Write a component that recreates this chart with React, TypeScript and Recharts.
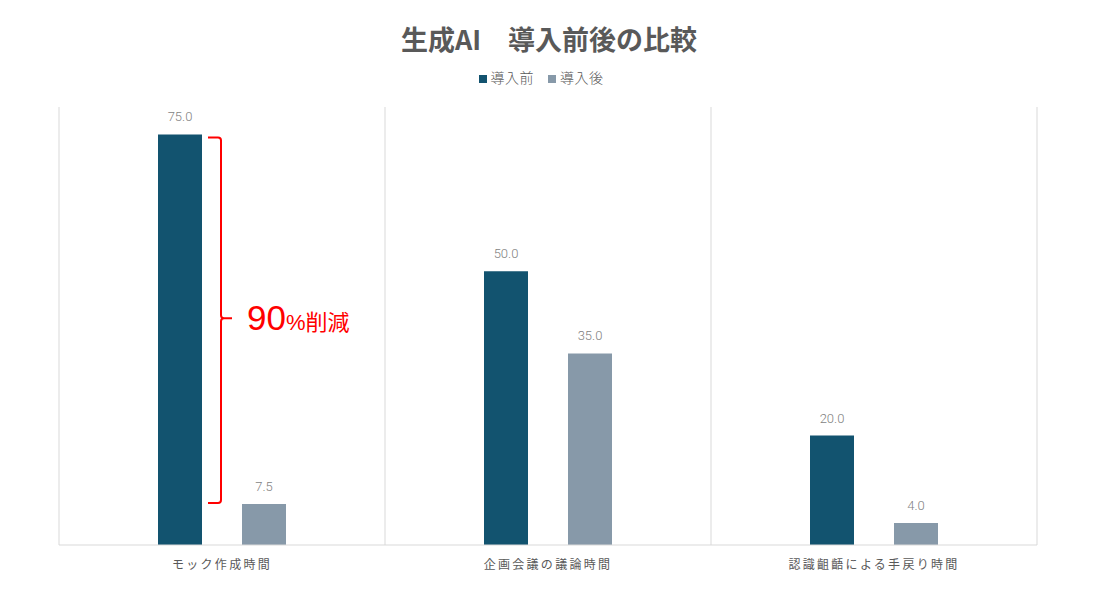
import { Bar, BarChart, CartesianGrid, LabelList, Legend, ReferenceLine, XAxis, YAxis } from "recharts";

const categories = ["モック作成時間", "企画会議の議論時間", "認識齟齬による手戻り時間"];
const before = [75, 50, 20];
const after = [7.5, 35, 4];

const data = categories.map((name, i) => ({ name, before: before[i], after: after[i] }));

const FONT = "'Noto Sans CJK JP', 'Noto Sans', sans-serif";
const LATIN = "'Liberation Sans', 'Noto Sans CJK JP', sans-serif";

const Brace = (props: any) => {
  const { x1, y1, y2 } = props;
  const x = x1 - 1;
  const top = y1 + 3;
  const bottom = y2 - 1;
  const mid = (top + bottom) / 2 - 2;
  const r = 3;
  const d = [
    `M ${x - 13} ${top}`,
    `L ${x - r} ${top}`,
    `Q ${x} ${top} ${x} ${top + r}`,
    `L ${x} ${mid - r}`,
    `Q ${x} ${mid} ${x + r} ${mid}`,
    `L ${x + 11} ${mid}`,
    `M ${x + r} ${mid}`,
    `Q ${x} ${mid} ${x} ${mid + r}`,
    `L ${x} ${bottom - r}`,
    `Q ${x} ${bottom} ${x - r} ${bottom}`,
    `L ${x - 13} ${bottom}`,
  ].join(" ");
  return (
    <g>
      <path d={d} fill="none" stroke="#FF0000" strokeWidth={2} />
      <text x={x + 26} y={mid + 12} fill="#FF0000" fontFamily={LATIN}>
        <tspan fontSize={35}>90</tspan>
        <tspan fontSize={22}>%</tspan>
        <tspan fontSize={22} fontFamily={FONT}>削減</tspan>
      </text>
    </g>
  );
};

export default function App() {
  return (
    <div style={{ position: "absolute", left: 0, top: 0, width: 1098, height: 611, background: "#fff" }}>
      <div
        style={{
          position: "absolute",
          top: 19,
          width: 1098,
          textAlign: "center",
          fontFamily: FONT,
          fontWeight: 700,
          fontSize: 27,
          color: "#595959",
        }}
      >
        生成AI　導入前後の比較
      </div>
      <BarChart
        width={1098}
        height={611}
        data={data}
        margin={{ top: 87, right: 61, bottom: 36, left: 59 }}
        barSize={44}
        barGap={40}
      >
        <CartesianGrid
          horizontal={false}
          stroke="#d9d9d9"
          verticalCoordinatesGenerator={({ offset }: any) =>
            [0, 1, 2, 3].map((i) => offset.left + (offset.width * i) / 3)
          }
        />
        <XAxis
          dataKey="name"
          stroke="#d9d9d9"
          tickLine={false}
          height={30}
          tick={{ fill: "#595959", fontSize: 12, fontFamily: FONT, letterSpacing: 2.3 }}
          tickMargin={9}
        />
        <YAxis hide domain={[0, 80]} />
        <Legend
          verticalAlign="top"
          align="center"
          iconType="square"
          iconSize={8}
          wrapperStyle={{ top: 67, fontFamily: FONT, fontSize: 14 }}
          formatter={(value: string) => (
            <span style={{ color: "#595959", fontWeight: 300, letterSpacing: 0.5, paddingRight: 4 }}>{value}</span>
          )}
        />
        <Bar dataKey="before" name="導入前" fill="#12536F" isAnimationActive={false}>
          <LabelList
            dataKey="before"
            position="top"
            offset={13}
            formatter={(v: any) => Number(v).toFixed(1)}
            style={{ fill: "#7f7f7f", fontSize: 13, fontFamily: "Roboto, sans-serif", fontWeight: 300 }}
          />
        </Bar>
        <Bar dataKey="after" name="導入後" fill="#8799A9" isAnimationActive={false}>
          <LabelList
            dataKey="after"
            position="top"
            offset={13}
            formatter={(v: any) => Number(v).toFixed(1)}
            style={{ fill: "#7f7f7f", fontSize: 13, fontFamily: "Roboto, sans-serif", fontWeight: 300 }}
          />
        </Bar>
        <ReferenceLine
          segment={[
            { x: categories[0], y: before[0] },
            { x: categories[0], y: after[0] },
          ]}
          shape={<Brace />}
        />
      </BarChart>
    </div>
  );
}
